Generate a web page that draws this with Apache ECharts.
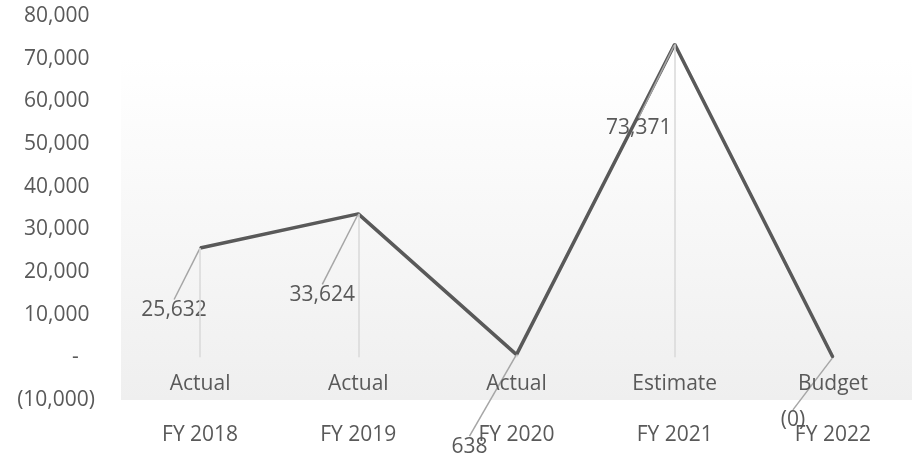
<!DOCTYPE html>
<html>
<head>
<meta charset="utf-8">
<script src="https://cdn.jsdelivr.net/npm/echarts@6/dist/echarts.min.js"></script>
<style>
  html, body { margin: 0; padding: 0; background: #fff; }
  #chart { width: 920px; height: 454px; }
</style>
</head>
<body>
<div id="chart"></div>
<script>
// data
const years = ['FY 2018', 'FY 2019', 'FY 2020', 'FY 2021', 'FY 2022']
const kinds = ['Actual', 'Actual', 'Actual', 'Estimate', 'Budget']
const values = [25632, 33624, 638, 73371, -0.3]
const yTicks = { min: -10000, max: 80000, interval: 10000 }

// where each data label sits relative to its point (px)
const labelShift = [[-26, 62], [-36, 81], [-47, 92], [-36, 84], [-40, 63]]

const font = '"Open Sans", "Liberation Sans", sans-serif'
const textColor = '#595959'

function fmt(v) {
  const n = Math.round(Math.abs(v))
  const s = n.toLocaleString('en-US')
  if (v < 0) return '(' + s + ')'
  if (n === 0) return '-'
  return s
}

const chart = echarts.init(document.getElementById('chart'))
chart.setOption({
  animation: false,
  textStyle: { fontFamily: font },
  grid: { left: 121, right: 8, top: 16, bottom: 54, outerBoundsMode: 'none' },
  xAxis: [
    {
      type: 'category',
      data: years,
      position: 'bottom',
      axisLine: { show: false },
      axisTick: { show: false },
      axisLabel: { color: textColor, fontSize: 21, fontFamily: font, margin: 25, interval: 0 }
    },
    {
      // inner row of the two-level category axis, drawn inside the plot
      type: 'category',
      data: kinds,
      position: 'top',
      offset: -379,
      z: 10,
      axisLine: { show: false },
      axisTick: { show: false },
      axisLabel: { color: textColor, fontSize: 21, fontFamily: font, margin: 0, interval: 0 }
    }
  ],
  yAxis: {
    type: 'value',
    min: yTicks.min,
    max: yTicks.max,
    interval: yTicks.interval,
    splitLine: { show: false },
    axisLine: { show: false },
    axisTick: { show: false },
    axisLabel: {
      color: textColor,
      fontSize: 21,
      fontFamily: font,
      margin: 26,
      formatter: v => {
        const s = fmt(v)
        if (v < 0) return s
        if (v === 0) return s + '   '
        return s + ' '
      }
    }
  },
  series: [
    {
      type: 'line',
      data: values,
      symbol: 'circle',
      symbolSize: 2,
      itemStyle: { color: '#595959' },
      lineStyle: { color: '#595959', width: 3.5 },
      label: {
        show: true,
        position: 'inside',
        color: textColor,
        fontSize: 21,
        fontFamily: font,
        formatter: p => fmt(p.value)
      },
      labelLayout: p => ({ dx: labelShift[p.dataIndex][0], dy: labelShift[p.dataIndex][1] }),
      labelLine: { show: true, lineStyle: { color: '#a6a6a6', width: 1.5 } },
      markLine: {
        silent: true,
        symbol: 'none',
        label: { show: false },
        lineStyle: { color: '#d9d9d9', width: 1.5, type: 'solid' },
        data: values.map((v, i) => [{ coord: [i, v] }, { coord: [i, 0] }])
      },
      markArea: {
        silent: true,
        itemStyle: {
          color: new echarts.graphic.LinearGradient(0, 0, 0, 1, [
            { offset: 0, color: '#ffffff' },
            { offset: 1, color: '#efefef' }
          ])
        },
        data: [[{ yAxis: 70000 }, { yAxis: -10000 }]]
      }
    }
  ]
})
window.addEventListener('resize', () => chart.resize())
</script>
</body>
</html>
